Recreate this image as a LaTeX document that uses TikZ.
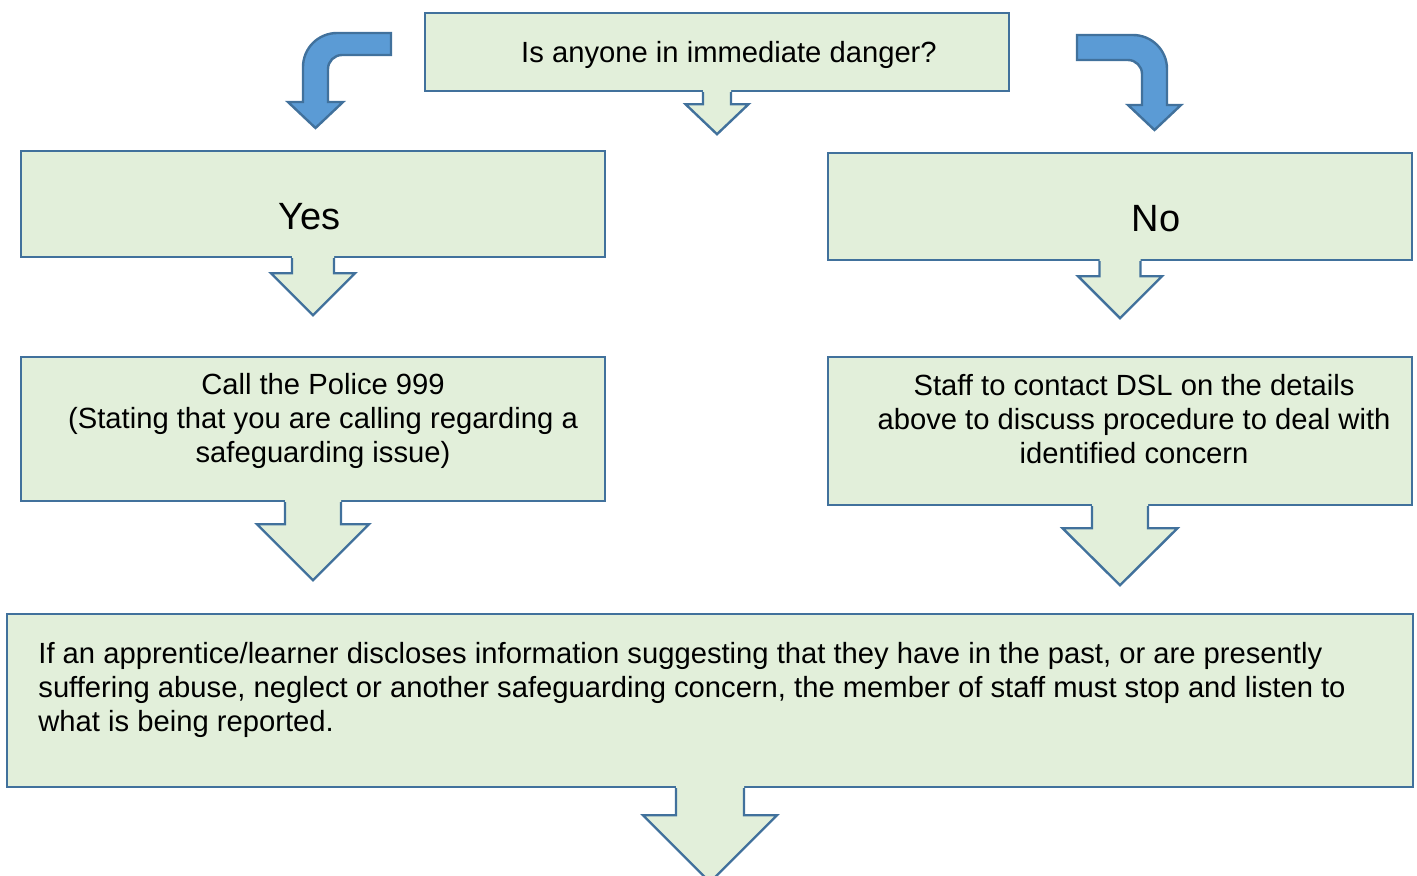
\documentclass[tikz,border=0pt]{standalone}
\usepackage{fontspec}
\setmainfont{Liberation Sans}
\usetikzlibrary{positioning}
\definecolor{boxGreen}{HTML}{E2EFDA}
\definecolor{lineBlue}{HTML}{41719C}
\definecolor{curveBlue}{HTML}{5B9BD5}
\tikzstyle{flowBox} = [shape=rectangle, draw=lineBlue, fill=boxGreen, line width=1.2pt,
	inner sep=0pt]
\tikzstyle{flowText} = [align=center, inner sep=0pt, font=\fontsize{14.6}{17}\selectfont]
\tikzstyle{bigText} = [inner sep=0pt, font=\fontsize{19}{22}\selectfont]
\tikzstyle{arrowFill} = [fill=boxGreen]
\tikzstyle{arrowLine} = [draw=lineBlue, line width=1.2pt, line join=miter]
\tikzstyle{curveArrow} = [draw=lineBlue, fill=curveBlue, line width=1.2pt]
\tikzstyle{SmallBox} = [flowBox, minimum width=292pt, minimum height=39pt]
\tikzstyle{HalfBox} = [flowBox, minimum width=292pt]
\tikzstyle{WideBox} = [flowBox, minimum width=703pt, minimum height=86.5pt]

% block arrow under a box: node, shaft half width, head half width, shaft length, head length
\newcommand{\downArrow}[5]{%
  \fill [arrowFill] ([shift={(-#2,-2)}]#1.south) -- ++(0,#4+2) -- ++(#2-#3,0)
    -- ++(#3,#5) -- ++(#3,-#5) -- ++(#2-#3,0) -- ++(0,-#4-2) -- cycle;
  \draw [arrowLine] ([shift={(-#2,0)}]#1.south) -- ++(0,#4) -- ++(#2-#3,0)
    -- ++(#3,#5) -- ++(#3,-#5) -- ++(#2-#3,0) -- ++(0,-#4);
}

\begin{document}
\begin{tikzpicture}[x=0.5pt, y=-0.5pt]
  \useasboundingbox (0,0) rectangle (1417,875);

  \node (ASK) [SmallBox] at (717,52) {};
  \node (YES) [HalfBox, minimum height=53pt] at (313,204) {};
  \node (NO) [HalfBox, minimum height=53.5pt] at (1120,206.5) {};
  \node (POLICE) [HalfBox, minimum height=72pt] at (313,429) {};
  \node (DSL) [HalfBox, minimum height=74pt] at (1120,431) {};
  \node (DISC) [WideBox] at (710,700.5) {};

  \node (ASKTXT) [flowText] at (729,55) {Is anyone in immediate danger?};
  \node (YESTXT) [bigText] at (309.5,217) {Yes};
  \node (NOTXT) [bigText] at (1156,218.5) {No};
  \node (POLICETXT) [flowText] at (323,421) {Call the Police 999\\
    (Stating that you are calling regarding a\\ safeguarding issue)};
  \node (DSLTXT) [flowText] at (1134,419) {Staff to contact DSL on the details\\
    above to discuss procedure to deal with\\ identified concern};
  \node (DISCTXT) [flowText, align=left, anchor=west] at (38,690) {If an apprentice/learner
    discloses information suggesting that they have in the past, or are presently\\
    suffering abuse, neglect or another safeguarding concern, the member of staff must
    stop and listen to\\ what is being reported.};

  \downArrow{ASK}{14}{31.5}{12}{30}
  \downArrow{YES}{21}{42}{15}{42}
  \downArrow{NO}{20.5}{42}{15}{42}
  \downArrow{POLICE}{28}{56}{22}{56}
  \downArrow{DSL}{28}{57.5}{22}{57}
  \downArrow{DISC}{34}{67}{27}{67}

  % bent arrows towards yes and no
  \draw [curveArrow] (391,33) -- (337,33) arc[start angle=90, end angle=180, radius=17pt]
    -- (303,102) -- (288,102) -- (315.5,128) -- (343,102) -- (328,102) -- (328,69)
    arc[start angle=180, end angle=90, radius=7pt] -- (391,55) -- cycle;
  \draw [curveArrow] (1077,35) -- (1133,35) arc[start angle=90, end angle=0, radius=17pt]
    -- (1167,105) -- (1181,105) -- (1154.5,130) -- (1128,105) -- (1142,105) -- (1142,74)
    arc[start angle=0, end angle=90, radius=7pt] -- (1077,60) -- cycle;

\end{tikzpicture}
\end{document}
